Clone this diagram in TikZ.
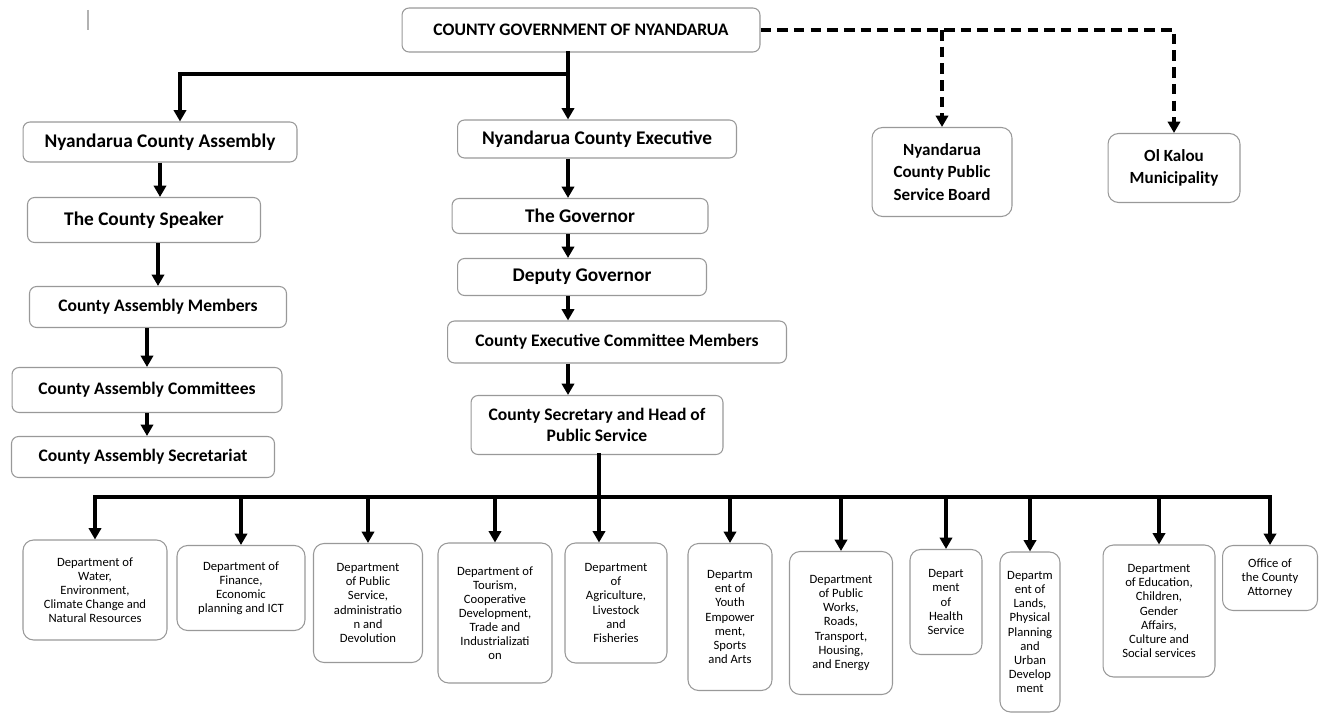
\documentclass[tikz,border=0pt]{standalone}
\usepackage{fontspec}
\setmainfont{Carlito}
\usetikzlibrary{arrows.meta}

\begin{document}
\begin{tikzpicture}[x=0.02cm, y=-0.02cm,
  orgbox/.style={draw=black!40, line width=0.6pt, rounded corners=4pt, fill=white, align=center, inner sep=0pt},
  bigbox/.style={orgbox, font=\bfseries\fontsize{11}{13}\selectfont},
  midbox/.style={orgbox, font=\bfseries\fontsize{10}{11.7}\selectfont},
  sidebox/.style={orgbox, rounded corners=6pt, font=\bfseries\fontsize{9.7}{12.6}\selectfont},
  deptbox/.style={orgbox, rounded corners=6pt, font=\fontsize{7.2}{8}\selectfont},
  plainline/.style={line width=1.8pt, line cap=rect},
  arrowline/.style={-{Triangle[length=6.5pt,width=7pt]}, line width=1.8pt},
  dashline/.style={-{Triangle[length=6.5pt,width=7pt]}, line width=1.9pt, dash pattern=on 6pt off 3.5pt}]
\useasboundingbox (0,0) rectangle (1321,713);
\draw[black!30, line width=1.2pt] (88,10) -- (88,30);

% top
\node[midbox, minimum width=7.16cm, minimum height=0.88cm] (cg) at (581,30) {COUNTY GOVERNMENT OF NYANDARUA};
\node[sidebox, minimum width=2.8cm, minimum height=1.78cm] (psb) at (942,172) {Nyandarua\\County Public\\Service Board};
\node[sidebox, minimum width=2.64cm, minimum height=1.38cm] (olk) at (1174,168) {Ol Kalou\\Municipality};

% assembly side
\node[bigbox, minimum width=5.48cm, minimum height=0.8cm] (asm) at (160,142) {Nyandarua County Assembly};
\node[bigbox, minimum width=4.66cm, minimum height=0.9cm] (spk) at (144,220) {The County Speaker};
\node[midbox, minimum width=5.14cm, minimum height=0.82cm] (mem) at (158,307) {County Assembly Members};
\node[midbox, minimum width=5.4cm, minimum height=0.9cm] (com) at (147,390) {County Assembly Committees};
\node[midbox, minimum width=5.26cm, minimum height=0.82cm] (scr) at (143,457) {County Assembly Secretariat};

% executive side
\node[bigbox, minimum width=5.58cm, minimum height=0.76cm] (exe) at (597,139) {Nyandarua County Executive};
\node[bigbox, minimum width=5.12cm, minimum height=0.7cm] (gvn) at (580,216) {The Governor};
\node[bigbox, minimum width=4.98cm, minimum height=0.74cm] (dgv) at (582,277) {Deputy Governor};
\node[midbox, minimum width=6.78cm, minimum height=0.84cm] (cec) at (617,342) {County Executive Committee Members};
\node[midbox, minimum width=5.04cm, minimum height=1.18cm] (csec) at (597,425) {County Secretary and Head of\\Public Service};

% departments
\node[deptbox, minimum width=2.88cm, minimum height=2.0cm] (d1) at (95,590) {Department of\\Water,\\Environment,\\Climate Change and\\Natural Resources};
\node[deptbox, minimum width=2.56cm, minimum height=1.7cm] (d2) at (241,588) {Department of\\Finance,\\Economic\\planning and ICT};
\node[deptbox, minimum width=2.18cm, minimum height=2.38cm] (d3) at (368,603) {Department\\of Public\\Service,\\administratio\\n and\\Devolution};
\node[deptbox, minimum width=2.28cm, minimum height=2.8cm] (d4) at (495,613) {Department of\\Tourism,\\Cooperative\\Development,\\Trade and\\Industrializati\\on};
\node[deptbox, minimum width=2.04cm, minimum height=2.4cm] (d5) at (616,603) {Department\\of\\Agriculture,\\Livestock\\and\\Fisheries};
\node[deptbox, minimum width=1.68cm, minimum height=2.94cm] (d6) at (730,617) {Departm\\ent of\\Youth\\Empower\\ment,\\Sports\\and Arts};
\node[deptbox, minimum width=2.06cm, minimum height=2.86cm] (d7) at (841,623) {Department\\of Public\\Works,\\Roads,\\Transport,\\Housing,\\and Energy};
\node[deptbox, minimum width=1.44cm, minimum height=2.1cm] (d8) at (946,602) {Depart\\ment\\of\\Health\\Service};
\node[deptbox, minimum width=1.2cm, minimum height=3.2cm] (d9) at (1030,632) {Departm\\ent of\\Lands,\\Physical\\Planning\\and\\Urban\\Develop\\ment};
\node[deptbox, minimum width=2.24cm, minimum height=2.64cm] (d10) at (1159,611) {Department\\of Education,\\Children,\\Gender\\Affairs,\\Culture and\\Social services};
\node[deptbox, minimum width=1.9cm, minimum height=1.3cm] (d11) at (1270,578) {Office of\\the County\\Attorney};

% links from the top
\coordinate (spine) at (568,74);
\coordinate (lturn) at (180,74);
\draw[plainline] (cg.south -| spine) -- (spine);
\draw[arrowline] (spine) -- (exe.north -| spine);
\draw[arrowline] (spine) -- (lturn) -- (asm.north -| lturn);
\draw[dashline] (cg.east) -| (olk.north);
\draw[dashline] (cg.east -| psb.north) -- (psb.north);

% assembly chain
\draw[arrowline] (asm.south) -- (asm.south |- spk.north);
\draw[arrowline] (spk.south -| mem) -- (mem.north);
\draw[arrowline] (mem.south -| com) -- (com.north);
\draw[arrowline] (com.south) -- (com.south |- scr.north);

% executive chain
\draw[arrowline] (exe.south -| spine) -- (gvn.north -| spine);
\draw[arrowline] (gvn.south -| spine) -- (dgv.north -| spine);
\draw[arrowline] (dgv.south -| spine) -- (cec.north -| spine);
\draw[arrowline] (cec.south -| spine) -- (csec.north -| spine);

% departments bus
\coordinate (bus) at (599,497);
\draw[plainline] (csec.south -| bus) -- (bus);
\draw[plainline] (bus -| d1.north) -- (bus -| d11.north);
\foreach \d in {d1,d2,d3,d4,d6,d7,d8,d9,d10,d11}
  \draw[arrowline] (bus -| \d.north) -- (\d.north);
\draw[arrowline] (bus) -- (bus |- d5.north);
\end{tikzpicture}
\end{document}
